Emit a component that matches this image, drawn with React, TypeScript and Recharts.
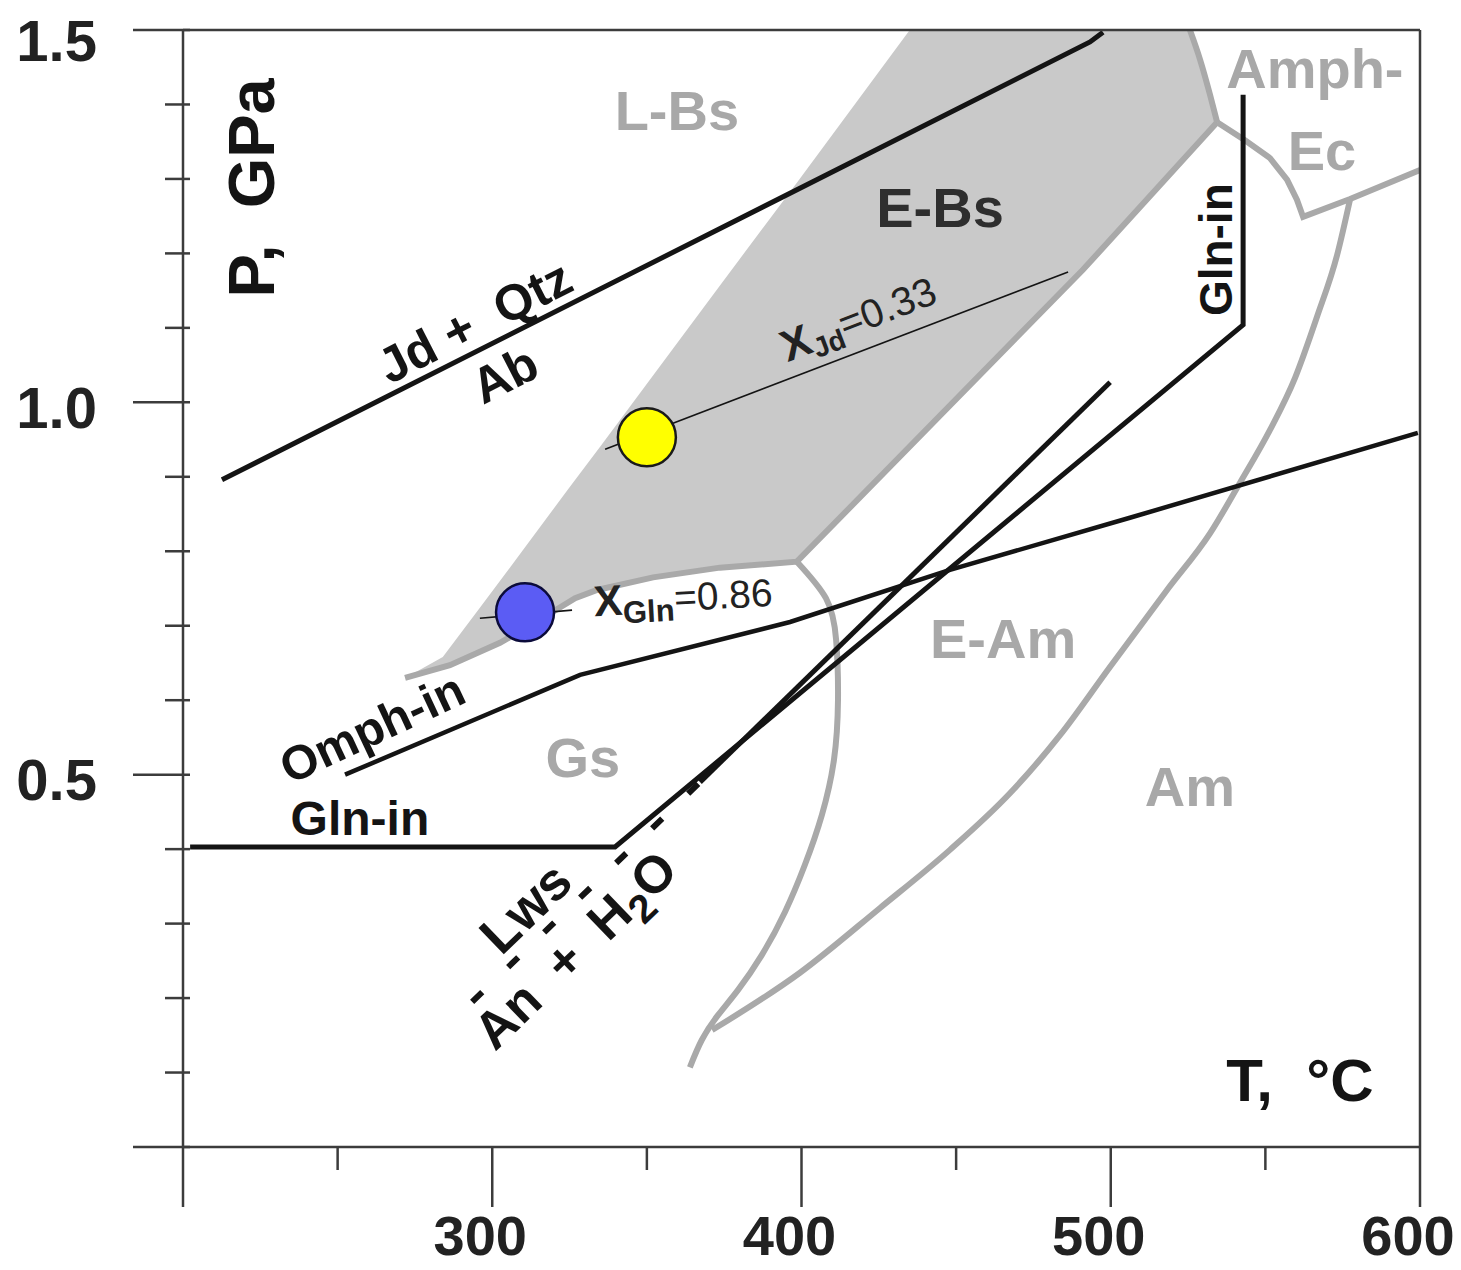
import React from 'react'
import { ComposedChart, XAxis, YAxis, Line, Area, Scatter, ReferenceLine } from 'recharts'

type Pt = { t: number; p: number }
const pts = (t: number[], p: number[]): Pt[] => t.map((v, i) => ({ t: v, p: p[i] }))

// axis ticks
const tTicks = [200, 250, 300, 350, 400, 450, 500, 550, 600]
const tLabels = [300, 400, 500, 600]
const pTicks = [0, 0.1, 0.2, 0.3, 0.4, 0.5, 0.6, 0.7, 0.8, 0.9, 1.0, 1.1, 1.2, 1.3, 1.4, 1.5]
const pLabels = [0.5, 1.0, 1.5]

// black reaction lines (T °C, P GPa)
const jdT = [212.6, 493.3, 497.5]
const jdP = [0.896, 1.484, 1.497]
const glnT = [202.3, 339.7, 542.8, 542.8]
const glnP = [0.403, 0.403, 1.104, 1.413]
const omphT = [252.4, 328.4, 396.3, 448.0, 506.2, 599.3]
const omphP = [0.5, 0.634, 0.705, 0.775, 0.845, 0.959]
const lwsT = [367.2, 499.8]
const lwsP = [0.49, 1.027]
const lwsDashT = [293.5, 367.2]
const lwsDashP = [0.195, 0.49]
const xJdT = [336.5, 486.2]
const xJdP = [0.937, 1.175]
const xGlnT = [296.0, 325.8]
const xGlnP = [0.71, 0.721]

// E-Bs field (shaded)
const ebsT = [272, 284, 296, 310, 325, 335, 352, 374, 398.5, 435, 491, 525.6, 529, 532, 534.4]
const ebsLo = [0.63, 0.644, 0.665, 0.695, 0.733, 0.749, 0.765, 0.778, 0.786, 0.941, 1.178, 1.336, 1.352, 1.366, 1.376]
const ebsHi = [0.63, 0.658, 0.724, 0.802, 0.886, 0.941, 1.036, 1.159, 1.295, 1.5, 1.5, 1.5, 1.46, 1.413, 1.376]

// grey facies boundaries
const ebsLowT = [271.8, 286.3, 302.5, 315.4, 326.8, 333.9, 352.0, 373.6, 398.5, 491.0, 534.4]
const ebsLowP = [0.63, 0.647, 0.677, 0.708, 0.737, 0.748, 0.765, 0.778, 0.786, 1.178, 1.376]
const ebsRightT = [525.6, 528.9, 532.1, 534.4]
const ebsRightP = [1.5, 1.46, 1.413, 1.376]
const amphEcT = [534.4, 543.4, 551.5, 557.0, 560.2, 562.2, 577.4, 600]
const amphEcP = [1.376, 1.352, 1.328, 1.299, 1.272, 1.249, 1.273, 1.312]
const gsEamT = [398.5, 407.9, 411.2, 411.8, 410.5, 406.6, 401.1, 394.7, 387.2, 379.5, 373.0, 367.8, 363.9]
const gsEamP = [0.786, 0.737, 0.681, 0.6, 0.52, 0.446, 0.379, 0.316, 0.258, 0.211, 0.177, 0.144, 0.107]
const amT = [371.1, 399.5, 425.4, 448.0, 467.4, 483.6, 499.8, 518.2, 532.1, 541.8, 551.5, 559.6, 566.7, 573.2, 577.4]
const amP = [0.157, 0.234, 0.321, 0.399, 0.475, 0.553, 0.645, 0.748, 0.824, 0.892, 0.963, 1.033, 1.115, 1.198, 1.273]

// sample points
const jdPoint = [{ t: 350.0, p: 0.953 }]
const glnPoint = [{ t: 310.6, p: 0.718 }]

const ebs = ebsT.map((t, i) => ({ t, lo: ebsLo[i], hi: ebsHi[i] }))

const FONT = '"Liberation Sans", Arial, Helvetica, sans-serif'
const INK = '#141414'
const GREY_LINE = '#a9a9a9'
const GREY_FILL = '#c9c9c9'
const GREY_TEXT = '#a8a8a8'
const AXIS = '#3c3c3c'

type Part = { s: string; sub?: boolean; size?: number; weight?: number }
type Note = { t: number; p: number; parts: Part[]; size: number; color: string; angle?: number; weight?: number }

const notes: Note[] = [
  { t: 359.7, p: 1.392, parts: [{ s: 'L-Bs' }], size: 56, color: GREY_TEXT },
  { t: 444.8, p: 1.262, parts: [{ s: 'E-Bs' }], size: 56, color: '#2e2e2e' },
  { t: 566.0, p: 1.449, parts: [{ s: 'Amph-' }], size: 56, color: GREY_TEXT },
  { t: 568.3, p: 1.339, parts: [{ s: 'Ec' }], size: 56, color: GREY_TEXT },
  { t: 465.2, p: 0.683, parts: [{ s: 'E-Am' }], size: 56, color: GREY_TEXT },
  { t: 329.3, p: 0.524, parts: [{ s: 'Gs' }], size: 56, color: GREY_TEXT },
  { t: 525.6, p: 0.485, parts: [{ s: 'Am' }], size: 56, color: GREY_TEXT },
  { t: 561.2, p: 0.09, parts: [{ s: 'T,  °C' }], size: 60, color: INK },
  { t: 222.0, p: 1.288, parts: [{ s: 'P,  GPa' }], size: 65, color: INK, angle: -90 },
  { t: 294.4, p: 1.108, parts: [{ s: 'Jd +  Qtz' }], size: 50, color: INK, angle: -27 },
  { t: 304.1, p: 1.037, parts: [{ s: 'Ab' }], size: 50, color: INK, angle: -27 },
  { t: 257.2, p: 0.442, parts: [{ s: 'Gln-in' }], size: 48, color: INK },
  { t: 534.0, p: 1.205, parts: [{ s: 'Gln-in' }], size: 46, color: INK, angle: -90 },
  { t: 261.1, p: 0.563, parts: [{ s: 'Omph-in' }], size: 48, color: INK, angle: -25 },
  { t: 310.6, p: 0.322, parts: [{ s: 'Lws' }], size: 53, color: INK, angle: -44 },
  {
    t: 326.8, p: 0.265, size: 52, color: INK, angle: -44,
    parts: [{ s: 'An  +  H' }, { s: '2', sub: true, size: 40 }, { s: 'O' }],
  },
  {
    t: 418.3, p: 1.113, size: 40, color: '#222', angle: -21, weight: 400,
    parts: [{ s: 'X', size: 44, weight: 700 }, { s: 'Jd', sub: true, size: 28, weight: 700 }, { s: '=0.33' }],
  },
  {
    t: 361.7, p: 0.739, size: 39, color: '#222', angle: -3, weight: 400,
    parts: [{ s: 'X', size: 43, weight: 700 }, { s: 'Gln', sub: true, size: 31, weight: 700 }, { s: '=0.86' }],
  },
]

function YTick({ x, y, payload }: any) {
  const v = payload.value as number
  const major = Math.round(v * 10) % 5 === 0
  const labelled = pLabels.some((l) => Math.abs(l - v) < 1e-6)
  return (
    <g>
      <line x1={x - (major ? 50 : 18)} x2={x + 7} y1={y} y2={y} stroke={AXIS} strokeWidth={2.5} />
      {labelled && (
        <text x={x - 86} y={y + (v === 1.5 ? 10 : 5)} textAnchor="end" dominantBaseline="central"
          fontFamily={FONT} fontWeight={700} fontSize={58} fill="#222">
          {v.toFixed(1)}
        </text>
      )}
    </g>
  )
}

function XTick({ x, y, payload }: any) {
  const v = payload.value as number
  const major = v % 100 === 0
  return (
    <g>
      <line x1={x} x2={x} y1={y} y2={y + (major ? 60 : 23)} stroke={AXIS} strokeWidth={2.5} />
      {tLabels.includes(v) && (
        <text x={x - 12} y={y + 88} textAnchor="middle" dominantBaseline="central"
          fontFamily={FONT} fontWeight={700} fontSize={56} fill="#222">
          {v}
        </text>
      )}
    </g>
  )
}

function NoteShape({ cx, cy, payload }: any) {
  const n = payload as Note
  let shift = 0
  const spans = n.parts.map((pt, i) => {
    const size = pt.size ?? n.size
    let dy = 0
    if (pt.sub && shift === 0) {
      dy = n.size * 0.32
      shift = dy
    } else if (!pt.sub && shift !== 0) {
      dy = -shift
      shift = 0
    }
    return (
      <tspan key={i} dy={dy} fontSize={size} fontWeight={pt.weight ?? n.weight ?? 700}>
        {pt.s}
      </tspan>
    )
  })
  return (
    <text x={cx} y={cy} textAnchor="middle" dominantBaseline="central" fill={n.color} fontFamily={FONT}
      fontSize={n.size} style={{ whiteSpace: 'pre' }}
      transform={n.angle ? `rotate(${n.angle} ${cx} ${cy})` : undefined}>
      {spans}
    </text>
  )
}

const lineProps = { dataKey: 'p', dot: false, activeDot: false, isAnimationActive: false, legendType: 'none' as const }

export default function App() {
  return (
    <div style={{ position: 'absolute', left: 0, top: 0, background: '#fff' }}>
      <ComposedChart width={1461} height={1270} margin={{ top: 30, right: 41, left: 0, bottom: 0 }}>
        <XAxis type="number" dataKey="t" domain={[200, 600]} ticks={tTicks} interval={0} allowDataOverflow
          height={123} tickSize={0} tickMargin={0} tickLine={false} tick={<XTick />}
          axisLine={{ stroke: AXIS, strokeWidth: 2.5 }} />
        <YAxis type="number" dataKey="p" domain={[0, 1.5]} ticks={pTicks} interval={0} allowDataOverflow
          width={183} tickSize={0} tickMargin={0} tickLine={false} tick={<YTick />}
          axisLine={{ stroke: AXIS, strokeWidth: 2.5 }} />

        <Area data={ebs} dataKey={(d: any) => [d.lo, d.hi]} type="linear" stroke="none" fill={GREY_FILL}
          fillOpacity={1} isAnimationActive={false} legendType="none" />

        <Line {...lineProps} data={pts(ebsLowT, ebsLowP)} type="linear" stroke={GREY_LINE} strokeWidth={6} />
        <Line {...lineProps} data={pts(ebsRightT, ebsRightP)} type="natural" stroke={GREY_LINE} strokeWidth={6} />
        <Line {...lineProps} data={pts(amphEcT, amphEcP)} type="linear" stroke={GREY_LINE} strokeWidth={6} />
        <Line {...lineProps} data={pts(gsEamT, gsEamP)} type="natural" stroke={GREY_LINE} strokeWidth={6} />
        <Line {...lineProps} data={pts(amT, amP)} type="monotone" stroke={GREY_LINE} strokeWidth={6} />

        <Line {...lineProps} data={pts(jdT, jdP)} type="linear" stroke={INK} strokeWidth={5} />
        <Line {...lineProps} data={pts(glnT, glnP)} type="linear" stroke={INK} strokeWidth={5} />
        <Line {...lineProps} data={pts(omphT, omphP)} type="linear" stroke={INK} strokeWidth={4.5} />
        <Line {...lineProps} data={pts(lwsT, lwsP)} type="linear" stroke={INK} strokeWidth={5} />
        <Line {...lineProps} data={pts(lwsDashT, lwsDashP)} type="linear" stroke={INK} strokeWidth={6}
          strokeDasharray="14 36" />
        <Line {...lineProps} data={pts(xJdT, xJdP)} type="linear" stroke={INK} strokeWidth={1.6} />
        <Line {...lineProps} data={pts(xGlnT, xGlnP)} type="linear" stroke={INK} strokeWidth={1.6} />

        <Scatter data={jdPoint} isAnimationActive={false} legendType="none"
          shape={(s: any) => <circle cx={s.cx} cy={s.cy} r={29} fill="#ffff00" stroke="#1a1a1a" strokeWidth={2.5} />} />
        <Scatter data={glnPoint} isAnimationActive={false} legendType="none"
          shape={(s: any) => <circle cx={s.cx} cy={s.cy} r={29} fill="#5b5cf4" stroke="#0b0b3a" strokeWidth={2.5} />} />

        <ReferenceLine y={1.5} stroke={AXIS} strokeWidth={2.5} />
        <ReferenceLine x={600} stroke={AXIS} strokeWidth={2.5} />

        <Scatter data={notes} isAnimationActive={false} legendType="none" shape={(s: any) => <NoteShape {...s} />} />
      </ComposedChart>
    </div>
  )
}
